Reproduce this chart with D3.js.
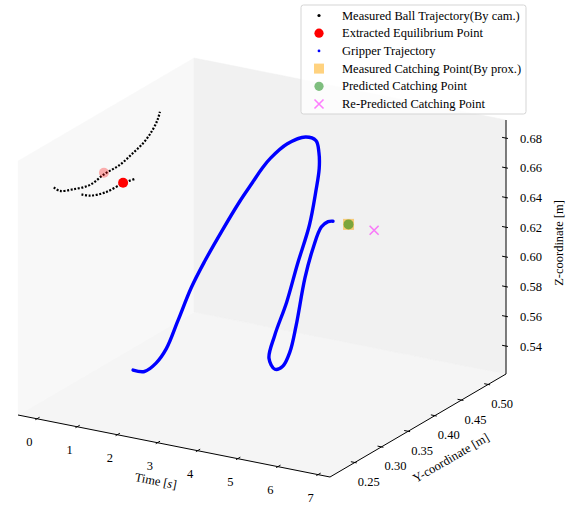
<!DOCTYPE html>
<html>
<head>
<meta charset="utf-8">
<script src="https://cdn.jsdelivr.net/npm/d3@7"></script>
<style>
  body { margin: 0; background: #fff; }
  text { font-family: "Liberation Serif", "Times New Roman", serif; font-size: 12.5px; fill: #000; }
</style>
</head>
<body>
<svg id="chart" width="581" height="505"></svg>
<script>
// ---- data ----
const tTicks = [0, 1, 2, 3, 4, 5, 6, 7];
const yTicks = [0.25, 0.30, 0.35, 0.40, 0.45, 0.50];
const zTicks = [0.54, 0.56, 0.58, 0.60, 0.62, 0.64, 0.66, 0.68];

// measured ball trajectory (two passes, seen by camera)
const ballUpperT = 0.0;
const ballUpperY = [0.235, 0.246, 0.271, 0.302, 0.330, 0.358, 0.383, 0.405, 0.420, 0.430, 0.434];
const ballUpperZ = [0.6704, 0.6657, 0.6615, 0.6578, 0.6594, 0.6595, 0.6622, 0.6654, 0.6700, 0.6753, 0.6795];
const ballLowerT = 0.65;
const ballLowerY = [0.238, 0.254, 0.282, 0.316, 0.338];
const ballLowerZ = [0.6685, 0.6643, 0.6605, 0.6596, 0.6579];

// extracted equilibrium points
const equilT = [0.0, 0.65];
const equilY = [0.329, 0.316];
const equilZ = [0.6605, 0.6600];

// gripper trajectory
const gripT = [0.70, 0.77, 0.86, 0.97, 1.15, 1.38, 1.56, 1.78, 2.00, 2.15, 2.25, 2.33, 2.47, 2.59, 2.85, 2.95,
               3.05, 3.18, 3.39, 3.65, 3.90, 4.12, 4.27, 4.35, 4.40, 4.51, 4.68, 4.98, 5.17, 5.32, 5.37, 5.40];
const gripY = [0.331, 0.347, 0.362, 0.373, 0.381, 0.389, 0.400, 0.415, 0.433, 0.446, 0.457, 0.466, 0.487, 0.512, 0.512, 0.510,
               0.503, 0.487, 0.459, 0.417, 0.378, 0.339, 0.317, 0.322, 0.333, 0.338, 0.337, 0.331, 0.332, 0.336, 0.345, 0.352];
const gripZ = [0.531, 0.527, 0.530, 0.538, 0.556, 0.578, 0.594, 0.612, 0.630, 0.641, 0.649, 0.654, 0.660, 0.660, 0.659, 0.652,
               0.643, 0.632, 0.616, 0.600, 0.584, 0.571, 0.561, 0.553, 0.553, 0.562, 0.581, 0.616, 0.637, 0.651, 0.653, 0.652];

// catching points [t, y, z]
const catchMeasured = [5.6, 0.366, 0.648];
const catchPredicted = [5.6, 0.366, 0.648];
const catchRepredicted = [5.6, 0.414, 0.634];

const legendLabels = [
  "Measured Ball Trajectory(By cam.)",
  "Extracted Equilibrium Point",
  "Gripper Trajectory",
  "Measured Catching Point(By prox.)",
  "Predicted Catching Point",
  "Re-Predicted Catching Point"
];

// ---- 3d axes ----
const tDomain = [-0.473, 7.297];
const yDomain = [0.2035, 0.5335];
const zDomain = [0.5212, 0.6922];

const tScale = d3.scaleLinear().domain(tDomain).range([0, 1]);
const yScale = d3.scaleLinear().domain(yDomain).range([0, 1]);
const zScale = d3.scaleLinear().domain(zDomain).range([0, 1]);

// screen basis of the box (front-left-bottom corner + edge vectors)
const origin = [18, 415];
const tVec = [312, 62];
const yVec = [176, -103];
const zVec = [0, -254];

function project(t, y, z) {
  const a = tScale(t), b = yScale(y), c = zScale(z);
  return [origin[0] + a * tVec[0] + b * yVec[0] + c * zVec[0],
          origin[1] + a * tVec[1] + b * yVec[1] + c * zVec[1]];
}
function depth(t, y) {
  // larger = farther from the viewer (azim -60)
  return -0.5 * tScale(t) + 0.866 * yScale(y);
}

const svg = d3.select("#chart");
const [t0, t1] = tDomain, [y0, y1] = yDomain, [z0, z1] = zDomain;

// panes
const panes = [
  { pts: [[t0, y0, z0], [t1, y0, z0], [t1, y1, z0], [t0, y1, z0]], fill: "#f5f5f5" }, // floor
  { pts: [[t0, y0, z0], [t0, y1, z0], [t0, y1, z1], [t0, y0, z1]], fill: "#f8f8f8" }, // left
  { pts: [[t0, y1, z0], [t1, y1, z0], [t1, y1, z1], [t0, y1, z1]], fill: "#f1f1f1" }  // back
];
svg.selectAll("polygon.pane")
  .data(panes)
  .enter()
  .append("polygon")
  .attr("class", "pane")
  .attr("points", d => d.pts.map(p => project(...p).join(",")).join(" "))
  .attr("fill", d => d.fill)
  .attr("stroke", d => d.fill)
  .attr("stroke-width", 0.5);

const line = d3.line();
const axisG = svg.append("g");

// axis lines
axisG.append("path").attr("d", line([project(t0, y0, z0), project(t1, y0, z0)]));
axisG.append("path").attr("d", line([project(t1, y0, z0), project(t1, y1, z0)]));
axisG.append("path").attr("d", line([project(t1, y1, z0), project(t1, y1, z1)]));
axisG.selectAll("path").attr("stroke", "#000").attr("stroke-width", 1).attr("fill", "none");

function unit(v) { const n = Math.hypot(v[0], v[1]); return [v[0] / n, v[1] / n]; }
const uY = unit(yVec), uT = unit(tVec);

function drawTicks(vals, pos, dir, inward, outward, labelOff) {
  const g = svg.append("g");
  vals.forEach(v => {
    const p = pos(v);
    g.append("path")
      .attr("d", line([[p[0] - dir[0] * outward, p[1] - dir[1] * outward],
                       [p[0] + dir[0] * inward, p[1] + dir[1] * inward]]))
      .attr("stroke", "#000").attr("stroke-width", 1);
    g.append("text")
      .attr("x", p[0] + labelOff[0])
      .attr("y", p[1] + labelOff[1])
      .attr("text-anchor", "middle")
      .attr("dominant-baseline", "central")
      .text(labelOff[2](v));
  });
}

drawTicks(tTicks, v => project(v, y0, z0), uY, 3, 2, [-7.5, 23.5, d3.format("d")]);
drawTicks(yTicks, v => project(t1, v, z0), [-uT[0], -uT[1]], 4, 2, [14, 19.5, d3.format(".2f")]);
drawTicks(zTicks, v => project(t1, y1, v), [-uT[0], -uT[1]], 4, 2, [25, 0.5, d3.format(".2f")]);

// axis titles
const tl = svg.append("text")
  .attr("text-anchor", "middle")
  .attr("transform", "translate(155,485) rotate(11)");
tl.append("tspan").text("Time [");
tl.append("tspan").attr("font-style", "italic").text("s");
tl.append("tspan").text("]");

svg.append("text")
  .attr("text-anchor", "middle")
  .attr("dominant-baseline", "central")
  .attr("transform", "translate(451,458) rotate(-30.3)")
  .text("Y-coordinate [m]");

svg.append("text")
  .attr("text-anchor", "middle")
  .attr("dominant-baseline", "central")
  .attr("transform", "translate(559,243) rotate(-90)")
  .text("Z-coordinate [m]");

// ---- marks ----
const smooth = d3.line().curve(d3.curveCatmullRom.alpha(0.5));

const ballUpper = ballUpperY.map((y, i) => project(ballUpperT, y, ballUpperZ[i]));
const ballLower = ballLowerY.map((y, i) => project(ballLowerT, y, ballLowerZ[i]));
[ballUpper, ballLower].forEach(pts => {
  svg.append("path")
    .attr("d", smooth(pts))
    .attr("fill", "none")
    .attr("stroke", "#000")
    .attr("stroke-width", 2.2)
    .attr("stroke-dasharray", "2,1.6");
});

// equilibrium points, depth-shaded
const eq = equilT.map((t, i) => ({ p: project(t, equilY[i], equilZ[i]), d: depth(t, equilY[i]) }));
const dExt = d3.extent(eq, e => e.d);
const shade = d3.scaleLinear().domain(dExt).range([1, 0.3]);
svg.selectAll("circle.eq")
  .data(eq.sort((a, b) => b.d - a.d))
  .enter()
  .append("circle")
  .attr("class", "eq")
  .attr("cx", d => d.p[0])
  .attr("cy", d => d.p[1])
  .attr("r", 5)
  .attr("fill", "#ff0000")
  .attr("fill-opacity", d => shade(d.d));

// gripper
const grip = gripT.map((t, i) => project(t, gripY[i], gripZ[i]));
svg.append("path")
  .attr("d", smooth(grip))
  .attr("fill", "none")
  .attr("stroke", "#0000ff")
  .attr("stroke-width", 3.4)
  .attr("stroke-linecap", "round")
  .attr("stroke-linejoin", "round");

// catching points
const pm = project(...catchMeasured);
svg.append("rect")
  .attr("x", pm[0] - 5.5).attr("y", pm[1] - 5.5)
  .attr("width", 11).attr("height", 11)
  .attr("fill", "#ffa500").attr("fill-opacity", 0.5);
const pp = project(...catchPredicted);
svg.append("circle")
  .attr("cx", pp[0]).attr("cy", pp[1]).attr("r", 5)
  .attr("fill", "#008000").attr("fill-opacity", 0.5);
const pr = project(...catchRepredicted);
svg.append("path")
  .attr("d", `M${pr[0] - 4.5},${pr[1] - 4.5}L${pr[0] + 4.5},${pr[1] + 4.5}M${pr[0] - 4.5},${pr[1] + 4.5}L${pr[0] + 4.5},${pr[1] - 4.5}`)
  .attr("stroke", "#ff00ff").attr("stroke-opacity", 0.5).attr("stroke-width", 1.6);

// ---- legend ----
const lg = svg.append("g").attr("transform", "translate(301,5)");
lg.append("rect")
  .attr("width", 225).attr("height", 109)
  .attr("rx", 2.5)
  .attr("fill", "#fff").attr("fill-opacity", 0.8)
  .attr("stroke", "#d5d5d5").attr("stroke-width", 1);

const rowY = i => 10.5 + i * 17.7;
const mx = 18;
lg.append("circle").attr("cx", mx).attr("cy", rowY(0)).attr("r", 1.6).attr("fill", "#000");
lg.append("circle").attr("cx", mx).attr("cy", rowY(1)).attr("r", 4.6).attr("fill", "#ff0000");
lg.append("circle").attr("cx", mx).attr("cy", rowY(2)).attr("r", 1.4).attr("fill", "#0000ff");
lg.append("rect").attr("x", mx - 5).attr("y", rowY(3) - 5).attr("width", 10).attr("height", 10)
  .attr("fill", "#ffa500").attr("fill-opacity", 0.5);
lg.append("circle").attr("cx", mx).attr("cy", rowY(4)).attr("r", 4.6)
  .attr("fill", "#008000").attr("fill-opacity", 0.5);
lg.append("path")
  .attr("d", `M${mx - 4.5},${rowY(5) - 4.5}L${mx + 4.5},${rowY(5) + 4.5}M${mx - 4.5},${rowY(5) + 4.5}L${mx + 4.5},${rowY(5) - 4.5}`)
  .attr("stroke", "#ff00ff").attr("stroke-opacity", 0.5).attr("stroke-width", 1.6);

lg.selectAll("text.lab")
  .data(legendLabels)
  .enter()
  .append("text")
  .attr("class", "lab")
  .attr("x", 41)
  .attr("y", (d, i) => rowY(i))
  .attr("dominant-baseline", "central")
  .text(d => d);
</script>
</body>
</html>
